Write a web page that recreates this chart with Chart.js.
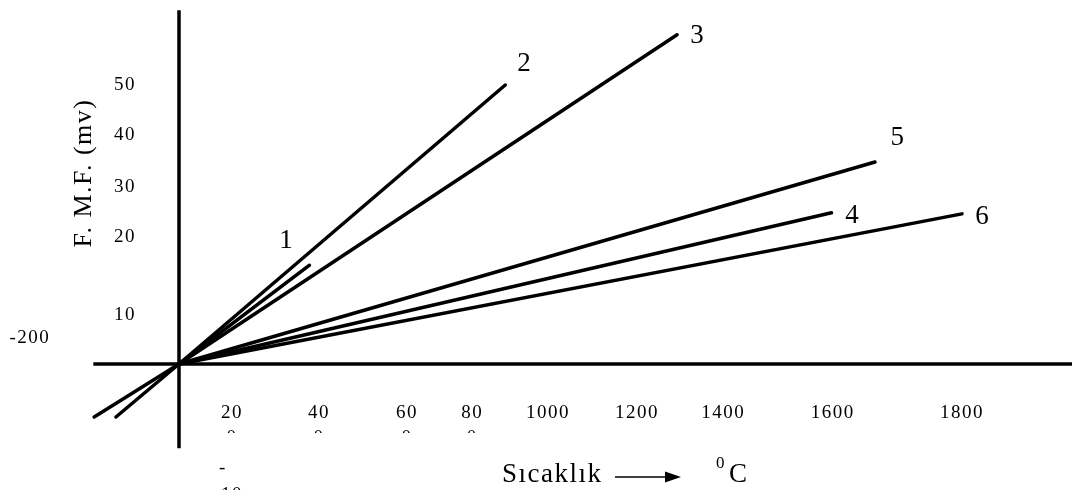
<!doctype html>
<html>
<head>
<title>EMF - Sicaklik</title>
<script src="https://cdn.jsdelivr.net/npm/chart.js@4.4.1/dist/chart.umd.min.js"></script>
<style>
body { margin: 0; background: #fff; }
canvas { display: block; }
</style>
</head>
<body>
	<canvas id="canvas" width="1072" height="490"></canvas>

	<script>
		// thermocouple lines, [temperature, mV]
		var line1 = [[0, 0], [300, 17.7]];
		var line2 = [[-145, -9.5], [0, 0], [750, 50.0]];
		var line3 = [[-195, -9.5], [0, 0], [1145, 59.0]];
		var line4 = [[0, 0], [1500, 27.1]];
		var line5 = [[0, 0], [1600, 36.2]];
		var line6 = [[0, 0], [1800, 26.9]];

		var lineNames = ['1', '2', '3', '4', '5', '6'];
		var lineLabelAt = [[246, 22.0], [793, 53.8], [1191, 58.8], [1547, 26.5], [1651, 40.5], [1846, 26.3]];

		// tick labels and where they sit on the scales
		var xTickLabels = ['20', '40', '60', '80', '1000', '1200', '1400', '1600', '1800'];
		var xTickAt = [122, 322, 524, 674, 848, 1053, 1251, 1503, 1800];
		var yTickLabels = ['50', '40', '30', '20', '10'];
		var yTickAt = [50, 41.0, 31.7, 22.8, 8.8];

		function pts(arr) {
			return arr.map(function (p) { return { x: p[0], y: p[1] }; });
		}

		var lines = [line1, line2, line3, line4, line5, line6];
		var datasets = lines.map(function (l, i) {
			return {
				label: lineNames[i],
				data: pts(l),
				borderColor: '#000',
				borderWidth: 3.5,
				borderCapStyle: 'round',
				pointRadius: 0,
				fill: false,
				tension: 0
			};
		});

		var serif = '"Liberation Serif", "DejaVu Serif", serif';

		var sketch = {
			id: 'sketch',
			beforeDatasetsDraw: function (chart) {
				var ctx = chart.ctx, xs = chart.scales.x, ys = chart.scales.y;
				var x0 = xs.getPixelForValue(0), y0 = ys.getPixelForValue(0);
				ctx.save();
				ctx.strokeStyle = '#000';
				ctx.lineWidth = 3.5;
				ctx.beginPath();
				ctx.moveTo(xs.getPixelForValue(-197), y0);
				ctx.lineTo(chart.width, y0);
				ctx.moveTo(x0, ys.getPixelForValue(63.4));
				ctx.lineTo(x0, ys.getPixelForValue(-15.1));
				ctx.stroke();
				ctx.restore();
			},
			afterDatasetsDraw: function (chart) {
				var ctx = chart.ctx, xs = chart.scales.x, ys = chart.scales.y;
				ctx.save();
				ctx.fillStyle = '#000';
				ctx.textAlign = 'center';
				ctx.textBaseline = 'middle';

				// tick labels
				ctx.font = '19px ' + serif;
				ctx.letterSpacing = '1.5px';
				var yRow = ys.getPixelForValue(-8.8);
				xTickLabels.forEach(function (t, i) {
					ctx.fillText(t, xs.getPixelForValue(xTickAt[i]), yRow);
				});
				// wrapped "0" of 200..800, cut off
				ctx.save();
				ctx.beginPath();
				ctx.rect(0, yRow + 15, chart.width, 5);
				ctx.clip();
				for (var i = 0; i < 4; i++) {
					ctx.fillText('0', xs.getPixelForValue(xTickAt[i]), yRow + 25);
				}
				ctx.restore();

				var xCol = xs.getPixelForValue(-124);
				yTickLabels.forEach(function (t, i) {
					ctx.fillText(t, xCol, ys.getPixelForValue(yTickAt[i]));
				});
				ctx.fillText('-200', xs.getPixelForValue(-343), ys.getPixelForValue(4.7));
				// broken "-10" at the bottom edge
				ctx.fillText('-', 223, 468);
				ctx.fillText('10', 232, 495);

				// line numbers
				ctx.font = '27px ' + serif;
				ctx.letterSpacing = '0px';
				lineNames.forEach(function (t, i) {
					ctx.fillText(t, xs.getPixelForValue(lineLabelAt[i][0]), ys.getPixelForValue(lineLabelAt[i][1]));
				});

				// x title
				ctx.textAlign = 'left';
				ctx.textBaseline = 'alphabetic';
				ctx.font = '27px ' + serif;
				ctx.letterSpacing = '1.5px';
				ctx.fillText('Sıcaklık', 502, 482);
				ctx.letterSpacing = '0px';
				ctx.fillText('C', 729, 482);
				ctx.font = '17px ' + serif;
				ctx.fillText('0', 716, 468);

				// arrow
				ctx.lineWidth = 1.5;
				ctx.beginPath();
				ctx.moveTo(615, 477);
				ctx.lineTo(668, 477);
				ctx.stroke();
				ctx.beginPath();
				ctx.moveTo(681, 477);
				ctx.lineTo(665, 471.5);
				ctx.lineTo(665, 482.5);
				ctx.closePath();
				ctx.fill();

				// y title
				ctx.translate(84, 173);
				ctx.rotate(-Math.PI / 2);
				ctx.textAlign = 'center';
				ctx.textBaseline = 'middle';
				ctx.font = '26px ' + serif;
				ctx.letterSpacing = '1.5px';
				ctx.fillText('F. M.F. (mv)', 0, 0);
				ctx.restore();
			}
		};

		var ctx = document.getElementById('canvas').getContext('2d');
		window.myChart = new Chart(ctx, {
			type: 'line',
			data: { datasets: datasets },
			options: {
				responsive: false,
				animation: false,
				layout: { padding: 0 },
				plugins: {
					legend: { display: false },
					tooltip: { enabled: false }
				},
				scales: {
					x: { type: 'linear', display: false, min: -411.5, max: 2052.9 },
					y: { type: 'linear', display: false, min: -22.58, max: 65.23 }
				}
			},
			plugins: [sketch]
		});
	</script>
</body>
</html>
